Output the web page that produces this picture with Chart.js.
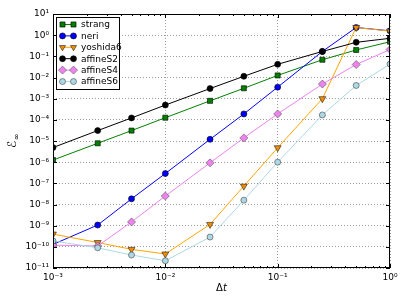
<!DOCTYPE html>
<html><head><meta charset="utf-8">
<script src="https://cdn.jsdelivr.net/npm/chart.js@4/dist/chart.umd.min.js"></script>
<style>html,body{margin:0;padding:0;background:#fff}canvas{display:block}</style>
</head><body>
<canvas id="c" width="407" height="305"></canvas>
<script>
// ---- data ----
const dt        = [0.001, 0.0025, 0.005, 0.01, 0.025, 0.05, 0.1, 0.25, 0.5, 1];
const strang    = [1.26e-6, 7.8e-6, 3.1e-5, 1.26e-4, 7.9e-4, 3.1e-3, 1.25e-2, 6.9e-2, 0.20, 0.49];
const neri      = [1.3e-10, 1.07e-9, 1.85e-8, 2.9e-7, 1.2e-5, 1.9e-4, 3.5e-3, 0.17, 2.3, 1.6];
const yoshida6  = [4.0e-10, 1.6e-10, 7.6e-11, 4.6e-11, 1.15e-9, 7.4e-8, 4.8e-6, 1.0e-3, 2.3, 1.55];
const affineS2  = [4.9e-6, 3.1e-5, 1.23e-4, 5.0e-4, 3.0e-3, 1.14e-2, 4.2e-2, 0.17, 0.46, 0.71];
const affineS4  = [1.2e-10, 1.1e-10, 1.5e-9, 2.5e-8, 9.3e-7, 1.4e-5, 1.9e-4, 4.9e-3, 4.1e-2, 0.21];
const affineS6  = [1.9e-10, 9e-11, 4.1e-11, 2.2e-11, 2.9e-10, 1.6e-8, 1.0e-6, 1.7e-4, 4.2e-3, 4.3e-2];
const yTickExps = [1, 0, -1, -2, -3, -4, -5, -6, -7, -8, -9, -10, -11];
const xTickExps = [-3, -2, -1, 0];
const xLabel = 'Δt';
const yLabelMain = 'ℰ';
const yLabelSub = '∞';

const SUP = {'-':'⁻','0':'⁰','1':'¹','2':'²','3':'³','4':'⁴','5':'⁵','6':'⁶','7':'⁷','8':'⁸','9':'⁹'};
const sup = n => String(n).split('').map(c => SUP[c]).join('');
const FONT = 'DejaVu Sans';

function mk(label, arr, line, face, style, radius, rot, edge) {
  return {
    label, data: dt.map((x, i) => ({x, y: arr[i]})),
    borderColor: line, backgroundColor: face, borderWidth: 1,
    pointStyle: style, pointRadius: radius, pointRotation: rot || 0,
    pointBackgroundColor: face, pointBorderColor: edge || '#000', pointBorderWidth: 0.6,
    tension: 0, fill: false, clip: 0
  };
}
const datasets = [
  mk('strang', strang, '#008000', '#008000', 'rect', 3.6),
  mk('neri', neri, '#0000ff', '#0000ff', 'circle', 3),
  mk('yoshida6', yoshida6, '#ffa500', '#f08c00', 'triangle', 4, 180, '#222'),
  mk('affineS2', affineS2, '#000000', '#000000', 'circle', 3),
  mk('affineS4', affineS4, '#ee82ee', '#ee82ee', 'rectRot', 4, 0, '#555'),
  mk('affineS6', affineS6, '#add8e6', '#add8e6', 'circle', 3, 0, '#444')
];
datasets.forEach((d, i) => d.order = datasets.length - i);

const framePlugin = {
  id: 'frame',
  afterDatasetsDraw(chart) {
    const {ctx, chartArea: a, scales: {x, y}} = chart;
    ctx.save();
    ctx.strokeStyle = '#000'; ctx.lineWidth = 1;
    ctx.beginPath();
    for (const e of yTickExps) {
      const py = Math.round(y.getPixelForValue(Math.pow(10, e))) + 0.5;
      ctx.moveTo(a.left, py); ctx.lineTo(a.left + 4, py);
      ctx.moveTo(a.right, py); ctx.lineTo(a.right - 4, py);
    }
    for (const e of xTickExps) {
      const px = Math.round(x.getPixelForValue(Math.pow(10, e))) + 0.5;
      ctx.moveTo(px, a.bottom); ctx.lineTo(px, a.bottom - 4);
      ctx.moveTo(px, a.top); ctx.lineTo(px, a.top + 4);
      if (e < 0) {
        for (let m = 2; m <= 9; m++) {
          const qx = Math.round(x.getPixelForValue(m * Math.pow(10, e))) + 0.5;
          ctx.moveTo(qx, a.bottom); ctx.lineTo(qx, a.bottom - 2);
          ctx.moveTo(qx, a.top); ctx.lineTo(qx, a.top + 2);
        }
      }
    }
    ctx.stroke();
    ctx.strokeRect(Math.round(a.left) + 0.5, Math.round(a.top) + 0.5,
                   Math.round(a.right - a.left) - 1, Math.round(a.bottom - a.top) - 1);
    ctx.restore();
  },
  afterDraw(chart) {
    const {ctx, chartArea: a} = chart;
    ctx.save();
    // legend
    const lx = a.left + 3, ly = a.top + 3, lw = 63, lh = 72;
    ctx.fillStyle = '#fff';
    ctx.fillRect(lx, ly, lw, lh);
    ctx.strokeStyle = '#000'; ctx.lineWidth = 1;
    ctx.strokeRect(lx + 0.5, ly + 0.5, lw, lh);
    chart.data.datasets.forEach((d, i) => {
      const yy = ly + 7.5 + i * 11.4;
      const x1 = lx + 6.5, x2 = lx + 17.5;
      ctx.strokeStyle = d.borderColor; ctx.lineWidth = 1;
      ctx.beginPath(); ctx.moveTo(x1, yy); ctx.lineTo(x2, yy); ctx.stroke();
      for (const px of [x1, x2]) {
        ctx.fillStyle = d.pointBackgroundColor;
        ctx.strokeStyle = d.pointBorderColor;
        ctx.lineWidth = d.pointBorderWidth;
        Chart.helpers.drawPoint(ctx, {pointStyle: d.pointStyle, rotation: d.pointRotation,
          radius: d.pointStyle === 'triangle' ? 3.5 : d.pointRadius, borderWidth: d.pointBorderWidth}, px, yy);
      }
      ctx.fillStyle = '#000';
      ctx.font = '9px "' + FONT + '"';
      ctx.textBaseline = 'middle'; ctx.textAlign = 'left';
      ctx.fillText(d.label, lx + 25, yy + 0.5);
    });
    // x title
    ctx.fillStyle = '#000';
    ctx.textBaseline = 'alphabetic'; ctx.textAlign = 'left';
    ctx.font = '10px "' + FONT + '"';
    const w1 = ctx.measureText(xLabel[0]).width;
    ctx.font = 'italic 10px "' + FONT + '"';
    const w2 = ctx.measureText(xLabel.slice(1)).width;
    const cx = (a.left + a.right) / 2, sx = cx - (w1 + w2) / 2;
    ctx.font = '10px "' + FONT + '"';
    ctx.fillText(xLabel[0], sx, 291);
    ctx.font = 'italic 10px "' + FONT + '"';
    ctx.fillText(xLabel.slice(1), sx + w1, 291);
    // y title
    ctx.translate(16, (a.top + a.bottom) / 2);
    ctx.rotate(-Math.PI / 2);
    ctx.font = '12px "' + FONT + '"';
    const m1 = ctx.measureText(yLabelMain).width;
    ctx.font = '8px "' + FONT + '"';
    const m2 = ctx.measureText(yLabelSub).width;
    const s0 = -(m1 + m2) / 2;
    ctx.font = '12px "' + FONT + '"';
    ctx.fillText(yLabelMain, s0, 0);
    ctx.font = '8px "' + FONT + '"';
    ctx.fillText(yLabelSub, s0 + m1 + 0.5, 3);
    ctx.restore();
  }
};

const gridCfg = {color: 'rgba(0,0,0,0.38)', lineWidth: 1, drawTicks: false};
const tickFont = {family: FONT, size: 9};

new Chart(document.getElementById('c'), {
  type: 'line',
  data: {datasets},
  options: {
    responsive: false, animation: false, devicePixelRatio: 1,
    layout: {padding: {top: 14, right: 17, left: 0, bottom: 0}},
    plugins: {legend: {display: false}, tooltip: {enabled: false}},
    elements: {line: {borderWidth: 1}},
    scales: {
      x: {
        type: 'logarithmic', min: 1e-3, max: 1,
        afterBuildTicks: s => { s.ticks = xTickExps.map(e => ({value: Math.pow(10, e), major: true})); },
        afterFit: s => { s.height = 37; },
        grid: gridCfg, border: {display: false, dash: [1, 2]},
        ticks: {callback: v => '10' + sup(Math.round(Math.log10(v))), font: tickFont, color: '#000',
                padding: 4, autoSkip: false, maxRotation: 0}
      },
      y: {
        type: 'logarithmic', min: 1e-11, max: 10,
        afterBuildTicks: s => { s.ticks = yTickExps.map(e => ({value: Math.pow(10, e), major: true})); },
        afterFit: s => { s.width = 53; },
        grid: gridCfg, border: {display: false, dash: [1, 2]},
        ticks: {callback: v => '10' + sup(Math.round(Math.log10(v))), font: tickFont, color: '#000',
                padding: 4, autoSkip: false}
      }
    }
  },
  plugins: [framePlugin]
});
</script>
</body></html>
